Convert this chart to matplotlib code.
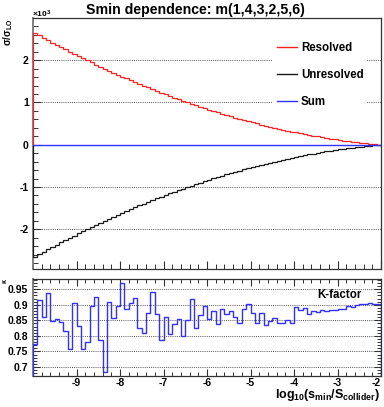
import numpy as np
import matplotlib
matplotlib.use("Agg")
import matplotlib.pyplot as plt
from matplotlib.ticker import MultipleLocator, FixedLocator
from matplotlib.lines import Line2D

plt.rcParams['font.family'] = ['Liberation Sans', 'DejaVu Sans']
plt.rcParams['font.weight'] = 'bold'
plt.rcParams['axes.unicode_minus'] = False
plt.rcParams['mathtext.fontset'] = 'custom'
plt.rcParams['mathtext.rm'] = 'Liberation Sans:bold'
plt.rcParams['mathtext.it'] = 'Liberation Sans:bold'
plt.rcParams['mathtext.bf'] = 'Liberation Sans:bold'

# ---------------- data ----------------
x_min, x_max, n_bins = -10.0, -2.0, 80

resolved = [2.650, 2.586, 2.529, 2.473, 2.418, 2.363, 2.309, 2.256, 2.203, 2.150,
            2.099, 2.048, 1.997, 1.947, 1.898, 1.849, 1.801, 1.754, 1.707, 1.661,
            1.615, 1.570, 1.526, 1.482, 1.439, 1.396, 1.355, 1.313, 1.272, 1.232,
            1.193, 1.154, 1.116, 1.078, 1.041, 1.005, 0.969, 0.933, 0.899, 0.865,
            0.831, 0.799, 0.766, 0.735, 0.704, 0.674, 0.644, 0.615, 0.586, 0.558,
            0.531, 0.504, 0.478, 0.453, 0.428, 0.404, 0.380, 0.357, 0.334, 0.313,
            0.291, 0.271, 0.251, 0.231, 0.213, 0.195, 0.177, 0.160, 0.144, 0.128,
            0.113, 0.099, 0.085, 0.071, 0.059, 0.047, 0.035, 0.024, 0.014, 0.005]

unresolved = [-2.649, -2.585, -2.528, -2.472, -2.417, -2.362, -2.308, -2.255, -2.202, -2.149,
              -2.098, -2.047, -1.996, -1.946, -1.897, -1.848, -1.800, -1.753, -1.706, -1.660,
              -1.614, -1.569, -1.525, -1.481, -1.438, -1.395, -1.354, -1.312, -1.271, -1.231,
              -1.192, -1.153, -1.115, -1.077, -1.040, -1.004, -0.968, -0.932, -0.898, -0.864,
              -0.830, -0.798, -0.765, -0.734, -0.703, -0.673, -0.643, -0.614, -0.585, -0.557,
              -0.530, -0.503, -0.477, -0.452, -0.427, -0.403, -0.379, -0.356, -0.333, -0.312,
              -0.290, -0.270, -0.250, -0.230, -0.212, -0.194, -0.176, -0.159, -0.143, -0.127,
              -0.112, -0.098, -0.084, -0.070, -0.058, -0.046, -0.034, -0.023, -0.013, -0.004]

kfactor = [0.775, 0.915, 0.860, 0.939, 0.849, 0.854, 0.844, 0.815, 0.757, 0.907,
           0.831, 0.757, 0.779, 0.896, 0.925, 0.788, 0.685, 0.909, 0.857, 0.896,
           0.969, 0.887, 0.906, 0.921, 0.826, 0.809, 0.874, 0.941, 0.872, 0.788,
           0.862, 0.807, 0.838, 0.853, 0.800, 0.852, 0.920, 0.825, 0.866, 0.896,
           0.853, 0.880, 0.839, 0.888, 0.871, 0.880, 0.862, 0.842, 0.888, 0.901,
           0.874, 0.840, 0.874, 0.834, 0.849, 0.858, 0.843, 0.842, 0.852, 0.843,
           0.893, 0.882, 0.890, 0.872, 0.880, 0.878, 0.882, 0.880, 0.882, 0.882,
           0.885, 0.888, 0.896, 0.893, 0.899, 0.901, 0.903, 0.906, 0.903, 0.901]

sum_vals = np.add(resolved, unresolved)

series_labels = ["Resolved", "Unresolved", "Sum"]
top_yticks = [-2, -1, 0, 1, 2]
bot_yticks = [0.7, 0.75, 0.8, 0.85, 0.9, 0.95]
bot_yticklabels = ["0.7", "0.75", "0.8", "0.85", "0.9", "0.95"]
xticks = [-9, -8, -7, -6, -5, -4, -3, -2]

title = "Smin dependence: m(1,4,3,2,5,6)"

# ---------------- figure ----------------
W, H = 384, 407
fig = plt.figure(figsize=(W / 100, H / 100), dpi=100)

def fr(x0, y0, x1, y1):
    return [x0 / W, 1 - y1 / H, (x1 - x0) / W, (y1 - y0) / H]

ax = fig.add_axes(fr(33, 18, 381, 268.5))
ax2 = fig.add_axes(fr(33, 279, 381, 376))

edges = np.linspace(x_min, x_max, n_bins + 1)
c_red, c_blk, c_blue = '#ff2020', '#1a1a1a', '#3030ff'

ax.stairs(resolved, edges, color=c_red, lw=0.9, zorder=3)
ax.stairs(unresolved, edges, color=c_blk, lw=0.9, zorder=3)
ax.stairs(sum_vals, edges, color=c_blue, lw=1.0, zorder=4)

ax2.stairs(kfactor, edges, color=c_blue, lw=1.0, zorder=3)

grid_kw = dict(color='#555555', lw=0.7, ls=(0, (1, 1.2)))
for a in (ax, ax2):
    a.set_xlim(x_min, x_max)
    a.xaxis.set_major_locator(FixedLocator(xticks))
    a.xaxis.set_minor_locator(MultipleLocator(0.2))
    a.yaxis.grid(True, which='major', **grid_kw)
    a.set_axisbelow(True)
    for s in a.spines.values():
        s.set_color('#333333')
        s.set_linewidth(0.9)
    a.spines['left'].set_color('#777777')
    a.spines['left'].set_linewidth(1.3)

ax.set_ylim(-2.93, 3.0)
ax.yaxis.set_major_locator(FixedLocator(top_yticks))
ax.yaxis.set_minor_locator(MultipleLocator(0.2))
ax.set_yticklabels([str(v) for v in top_yticks])
ax.tick_params(axis='both', which='both', direction='in', labelsize=7.5)
ax.tick_params(axis='both', which='major', length=6, width=0.8, color='#333333')
ax.tick_params(axis='both', which='minor', length=3.5, width=0.7, color='#333333')
ax.tick_params(axis='x', labelbottom=False)
ax.tick_params(axis='y', pad=3)

ax2.set_ylim(0.671, 0.983)
ax2.yaxis.set_major_locator(FixedLocator(bot_yticks))
ax2.yaxis.set_minor_locator(MultipleLocator(0.01))
ax2.set_yticklabels(bot_yticklabels)
xlabels = ax2.set_xticklabels([str(v) for v in xticks])
xlabels[-1].set_horizontalalignment('right')
ax2.tick_params(axis='both', which='both', direction='in', labelsize=7.5,
                top=True, right=True)
ax2.tick_params(axis='both', which='major', length=5, width=0.8, color='#333333')
ax2.tick_params(axis='both', which='minor', length=3, width=0.7, color='#333333')
ax2.tick_params(axis='x', pad=1.5)

# legend
handles = [Line2D([], [], color=c_red, lw=1.0),
           Line2D([], [], color=c_blk, lw=1.0),
           Line2D([], [], color=c_blue, lw=1.0)]
leg = ax.legend(handles, series_labels, loc='upper left',
                bbox_to_anchor=(0.69, 0.92), frameon=True, fancybox=False,
                facecolor='white', edgecolor='none', framealpha=1,
                prop={'size': 8.3, 'weight': 'bold'},
                handlelength=1.7, handletextpad=0.35, labelspacing=1.3,
                borderpad=0.35, borderaxespad=0)

# texts
fig.text(195 / W, 1 - 10 / H, title, ha='center', va='center',
         fontsize=10.2, fontweight='bold')
fig.text(32 / W, 1 - 14 / H, r'×10$^{3}$', ha='left', va='center', fontsize=6)
fig.text(8 / W, 1 - 19 / H, r'$\sigma/\sigma_{LO}$', ha='center', va='top',
         rotation=90, fontsize=7)
fig.text(5 / W, 1 - 281 / H, r'$\kappa$', ha='center', va='center',
         rotation=90, fontsize=5)
fig.text(380 / W, 1 - 398 / H, r'$log_{10}(s_{min}/S_{collider})$', ha='right',
         va='baseline', fontsize=9)
ax2.text(0.943, 0.835, 'K-factor', transform=ax2.transAxes, ha='right',
         va='center', fontsize=8.3, fontweight='bold')

fig.savefig('out.png', dpi=100)
